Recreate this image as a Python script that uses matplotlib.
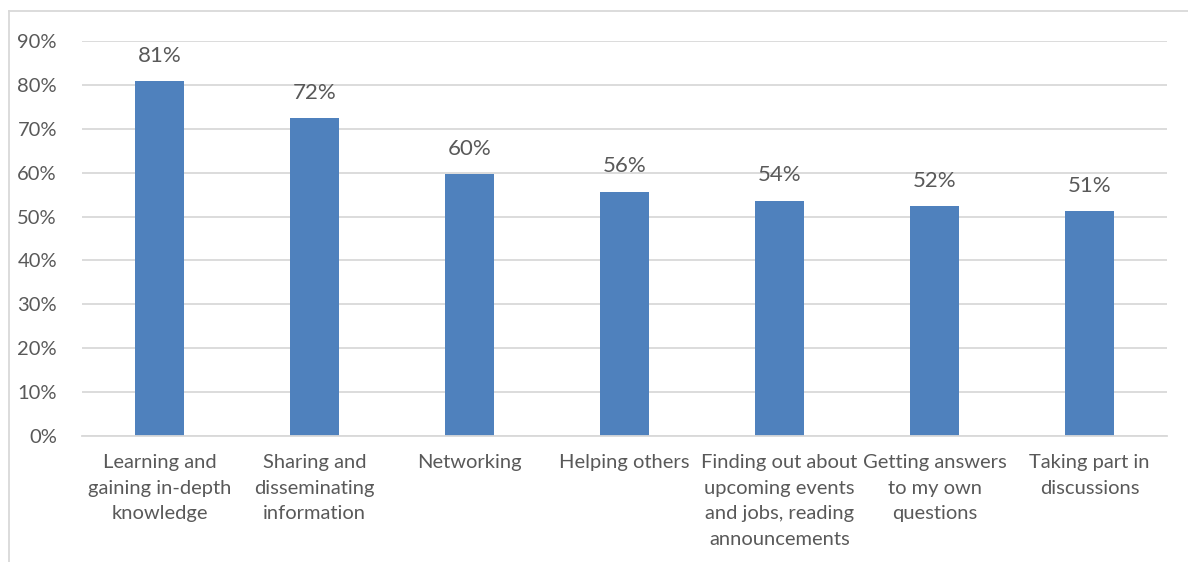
"""Bar chart: reasons for using the community, share of respondents."""

import matplotlib

matplotlib.use("Agg")

import matplotlib.pyplot as plt  # noqa: E402
from matplotlib.lines import Line2D  # noqa: E402
from matplotlib.ticker import FuncFormatter  # noqa: E402

categories = [
    "Learning and\ngaining in-depth\nknowledge",
    "Sharing and\ndisseminating\ninformation",
    "Networking",
    "Helping others",
    "Finding out about\nupcoming events\nand jobs, reading\nannouncements",
    "Getting answers\nto my own\nquestions",
    "Taking part in\ndiscussions",
]
shares = [0.809, 0.724, 0.596, 0.557, 0.536, 0.524, 0.512]

BAR = "#4F81BD"
TEXT = "#595959"
GRID = "#D9D9D9"

plt.rcParams["font.family"] = ["Lato", "DejaVu Sans"]

fig = plt.figure(figsize=(11.88, 5.62), dpi=100)
ax = fig.add_axes([82 / 1188, 1 - 436 / 562, 1085 / 1188, 395 / 562])

x = range(len(categories))
bars = ax.bar(x, shares, width=0.316, color=BAR, zorder=2)

for rect, v in zip(bars, shares):
    ax.annotate(
        f"{v:.0%}",
        (rect.get_x() + rect.get_width() / 2, v),
        xytext=(0, 11),
        textcoords="offset points",
        ha="center",
        va="bottom",
        fontsize=16,
        color=TEXT,
    )

ax.set_xlim(-0.5, len(categories) - 0.5)
ax.set_ylim(0, 0.9)
ax.set_yticks([i / 10 for i in range(10)])
ax.yaxis.set_major_formatter(FuncFormatter(lambda v, _: f"{v:.0%}"))
ax.set_xticks(list(x))
ax.set_xticklabels(categories, fontsize=14.5, color=TEXT, linespacing=1.62)
ax.tick_params(axis="y", labelsize=14.5, labelcolor=TEXT, length=0, pad=18)
ax.tick_params(axis="x", length=0, pad=13)
ax.grid(axis="y", color=GRID, linewidth=1.3, zorder=0)
for side in ("top", "right", "left"):
    ax.spines[side].set_visible(False)
ax.spines["bottom"].set_color(GRID)
ax.spines["bottom"].set_linewidth(1.3)

# outer chart frame, partly cropped at the right and bottom
fx, fy = 8.5 / 1188, 1 - 10.5 / 562
fig.add_artist(Line2D([fx, fx], [0, fy], color=GRID, linewidth=1.3,
                      transform=fig.transFigure))
fig.add_artist(Line2D([fx, 1], [fy, fy], color=GRID, linewidth=1.3,
                      transform=fig.transFigure))

fig.savefig("out.png", dpi=100)
